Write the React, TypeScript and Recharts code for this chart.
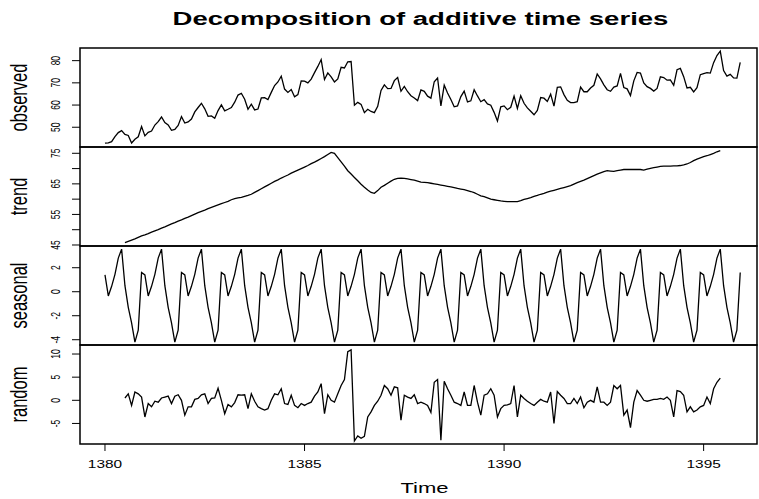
import React from 'react';
import { LineChart, Line, XAxis, YAxis, ReferenceArea } from 'recharts';

const START_YEAR = 1380;
const FREQ = 12;
const TREND_START_INDEX = 6; // trend and random begin half a year in
const X_TICKS = [1380, 1385, 1390, 1395];
const X_DOMAIN: [number, number] = [1379.374, 1396.337];

const observed = [
  42.8, 43.0, 43.5, 45.8, 47.6, 48.5, 46.8, 46.3, 42.9, 44.6, 45.7, 50.3,
  46.1, 47.7, 48.3, 51.0, 52.5, 54.6, 52.1, 51.0, 48.6, 49.0, 50.8, 54.8,
  51.9, 52.4, 53.7, 56.9, 58.9, 60.8, 58.3, 54.9, 55.1, 54.0, 57.5, 60.1,
  57.4, 58.1, 58.9, 61.3, 64.5, 65.3, 62.6, 58.1, 60.4, 57.8, 58.2, 63.2,
  63.3, 62.5, 65.7, 68.8, 70.4, 73.0, 67.2, 65.7, 67.0, 63.7, 64.7, 70.9,
  70.8, 70.0, 71.7, 74.6, 77.4, 80.5, 71.5, 74.5, 72.7, 70.4, 71.8, 77.0,
  76.7, 79.5, 79.6, 59.9, 61.2, 60.3, 56.6, 58.1, 57.1, 56.6, 59.4, 66.6,
  69.1, 67.4, 67.5, 71.0, 72.4, 66.2, 68.4, 66.0, 64.2, 63.2, 62.0, 66.8,
  66.2, 64.0, 63.1, 70.5, 72.2, 59.6, 69.0, 65.4, 62.5, 59.2, 59.6, 63.8,
  66.3, 61.4, 61.9, 66.9, 64.1, 61.5, 62.4, 60.5, 59.9, 56.7, 52.8, 59.2,
  59.6, 57.9, 59.0, 64.0, 58.5, 64.2, 60.8, 58.7, 57.2, 55.6, 57.6, 63.4,
  63.1, 61.6, 64.9, 59.5, 68.0, 68.2, 64.7, 62.1, 61.1, 61.1, 61.5, 68.1,
  66.0, 66.0, 67.7, 68.9, 74.0, 71.8, 69.1, 66.9, 66.2, 68.1, 68.6, 74.3,
  67.9, 67.3, 64.3, 70.9, 74.7, 74.4, 70.0, 68.3, 67.5, 66.3, 67.5, 72.7,
  72.4, 71.2, 71.3, 68.9, 75.9, 76.5, 72.8, 67.7, 68.0, 65.9, 67.8, 73.7,
  74.2, 74.6, 74.4, 79.1, 82.3, 84.3, 75.5, 73.0, 73.8, 72.2, 72.1, 79.2,
];

const trend = [
  45.8, 46.2, 46.6, 47.0, 47.5, 48.0, 48.3, 48.7, 49.2, 49.6, 50.0, 50.5,
  50.9, 51.4, 51.9, 52.3, 52.8, 53.2, 53.7, 54.1, 54.6, 55.1, 55.6, 56.0,
  56.4, 56.9, 57.3, 57.7, 58.1, 58.5, 58.9, 59.3, 59.8, 60.2, 60.4, 60.6,
  60.9, 61.2, 61.6, 62.2, 62.8, 63.4, 64.0, 64.6, 65.2, 65.8, 66.3, 66.9,
  67.4, 67.9, 68.5, 69.0, 69.5, 70.0, 70.5, 71.0, 71.6, 72.1, 72.7, 73.3,
  73.9, 74.6, 75.3, 75.0, 73.6, 72.2, 70.8, 69.3, 68.2, 67.1, 66.0, 64.9,
  63.9, 63.0, 62.2, 61.9, 62.8, 63.9, 64.5, 65.2, 65.9, 66.5, 66.8, 66.9,
  66.8, 66.6, 66.4, 66.2, 65.9, 65.6, 65.5, 65.4, 65.2, 65.0, 64.8, 64.6,
  64.4, 64.2, 64.0, 63.8, 63.5, 63.3, 63.1, 62.8, 62.5, 62.1, 61.6, 61.1,
  60.8, 60.4, 60.0, 59.8, 59.6, 59.4, 59.3, 59.2, 59.2, 59.2, 59.2, 59.5,
  59.9, 60.2, 60.5, 60.9, 61.2, 61.6, 61.9, 62.3, 62.6, 62.9, 63.2, 63.5,
  63.8, 64.1, 64.4, 64.9, 65.4, 65.8, 66.2, 66.7, 67.2, 67.7, 68.2, 68.6,
  69.0, 69.3, 69.2, 69.1, 69.3, 69.5, 69.7, 69.7, 69.7, 69.7, 69.7, 69.7,
  69.5, 69.8, 70.1, 70.3, 70.5, 70.7, 70.8, 70.8, 70.8, 70.9, 70.9, 71.0,
  71.2, 71.5, 72.0, 72.6, 73.1, 73.5, 73.9, 74.2, 74.6, 75.0, 75.5, 75.9,
];

const seasonal = [
  1.4, -0.35, 0.45, 1.45, 2.8, 3.55, 0.5, -1.3, -2.6, -4.2, -3.2, 1.6,
  1.4, -0.35, 0.45, 1.45, 2.8, 3.55, 0.5, -1.3, -2.6, -4.2, -3.2, 1.6,
  1.4, -0.35, 0.45, 1.45, 2.8, 3.55, 0.5, -1.3, -2.6, -4.2, -3.2, 1.6,
  1.4, -0.35, 0.45, 1.45, 2.8, 3.55, 0.5, -1.3, -2.6, -4.2, -3.2, 1.6,
  1.4, -0.35, 0.45, 1.45, 2.8, 3.55, 0.5, -1.3, -2.6, -4.2, -3.2, 1.6,
  1.4, -0.35, 0.45, 1.45, 2.8, 3.55, 0.5, -1.3, -2.6, -4.2, -3.2, 1.6,
  1.4, -0.35, 0.45, 1.45, 2.8, 3.55, 0.5, -1.3, -2.6, -4.2, -3.2, 1.6,
  1.4, -0.35, 0.45, 1.45, 2.8, 3.55, 0.5, -1.3, -2.6, -4.2, -3.2, 1.6,
  1.4, -0.35, 0.45, 1.45, 2.8, 3.55, 0.5, -1.3, -2.6, -4.2, -3.2, 1.6,
  1.4, -0.35, 0.45, 1.45, 2.8, 3.55, 0.5, -1.3, -2.6, -4.2, -3.2, 1.6,
  1.4, -0.35, 0.45, 1.45, 2.8, 3.55, 0.5, -1.3, -2.6, -4.2, -3.2, 1.6,
  1.4, -0.35, 0.45, 1.45, 2.8, 3.55, 0.5, -1.3, -2.6, -4.2, -3.2, 1.6,
  1.4, -0.35, 0.45, 1.45, 2.8, 3.55, 0.5, -1.3, -2.6, -4.2, -3.2, 1.6,
  1.4, -0.35, 0.45, 1.45, 2.8, 3.55, 0.5, -1.3, -2.6, -4.2, -3.2, 1.6,
  1.4, -0.35, 0.45, 1.45, 2.8, 3.55, 0.5, -1.3, -2.6, -4.2, -3.2, 1.6,
  1.4, -0.35, 0.45, 1.45, 2.8, 3.55, 0.5, -1.3, -2.6, -4.2, -3.2, 1.6,
];

const random = [
  0.5, 1.4, -1.1, 1.8, 1.4, 0.7, -3.6, -0.7, -1.4, -0.2, -0.4, 0.5,
  0.7, 0.9, -0.7, 0.9, 1.2, 0.0, -3.2, -1.4, -1.4, 0.2, 0.4, 1.2,
  1.4, -0.7, 0.4, 0.5, 2.6, 0.0, -2.9, -0.9, -1.4, -0.5, 1.2, 1.1,
  1.2, -1.8, 1.4, -0.2, -1.4, -1.8, -2.1, -1.8, 0.0, 1.4, 1.2, 2.5,
  -0.7, -0.9, 1.1, -1.1, -1.6, -0.7, -1.1, -0.7, -0.4, 0.9, 1.8, 3.6,
  -2.9, 1.2, 0.0, -0.4, 1.4, 3.2, 4.5, 10.5, 10.9, -8.8, -7.7, -8.2,
  -7.8, -3.6, -2.5, -1.1, -0.2, 1.1, 3.2, 2.5, 1.1, 2.9, 2.7, -4.3,
  1.1, 0.7, 0.4, 1.2, -0.7, -0.4, -0.7, -1.1, -2.6, 3.9, 4.5, -8.6,
  4.1, 2.5, 1.1, -0.4, -0.7, -1.1, 1.8, -1.1, -1.1, 3.2, -0.4, -3.2,
  1.1, 1.4, 2.5, 1.1, -3.6, -1.8, -1.1, -1.0, -0.7, 3.2, -3.6, 1.1,
  0.4, -0.2, -0.7, -1.1, -0.4, 0.2, -0.2, -0.4, 1.8, -5.0, 1.9, 1.1,
  0.4, -0.7, -0.7, 0.4, -0.7, 0.7, -1.6, -0.4, 0.0, -0.4, 2.9, -0.4,
  -0.4, -1.1, -0.4, 3.2, 2.5, 3.2, -3.2, -2.1, -5.9, -0.4, 2.1, 1.1,
  0.0, -0.2, 0.0, 0.2, 0.2, 0.4, 0.2, 0.7, 0.0, -3.6, 2.1, 1.9,
  1.1, -2.5, -1.4, -2.5, -2.1, -1.4, -1.1, 0.7, -0.7, 2.5, 3.9, 4.8,
];

const observedTicks = [50, 60, 70, 80];
const trendTicks = [45, 50, 55, 60, 65, 70, 75];
const trendLabels = [45, 55, 65, 75];
const seasonalTicks = [-4, -2, 0, 2];
const randomTicks = [-5, 0, 5, 10];

const FONT = '"Liberation Sans", Arial, Helvetica, sans-serif';
const PAD = 10;

type Pt = { t: number; v: number };
const toSeries = (values: number[], startIndex: number): Pt[] =>
  values.map((v, i) => ({ t: START_YEAR + (startIndex + i) / FREQ, v }));

type PanelProps = {
  top: number;
  plotH: number;
  data: Pt[];
  domain: [number, number];
  ticks: number[];
  labeled: number[];
  name: string;
  bottom?: boolean;
};

function Panel({ top, plotH, data, domain, ticks, labeled, name, bottom }: PanelProps) {
  const xAxisH = bottom ? 50 : 0;
  const marginBottom = bottom ? 5 : PAD;
  const height = PAD + plotH + xAxisH + marginBottom;
  const cy = PAD + plotH / 2;

  const renderYTick = (props: any) => {
    const { y, payload } = props;
    if (!labeled.includes(payload.value)) return <g />;
    return (
      <text
        transform={`translate(59.5,${y}) scale(1.6,1) rotate(-90)`}
        textAnchor="middle"
        fontSize={8.5}
        fontFamily={FONT}
        fill="#000"
      >
        {payload.value}
      </text>
    );
  };

  const renderXTick = (props: any) => {
    const { x, payload } = props;
    return (
      <text
        transform={`translate(${x},${PAD + plotH + 24}) scale(1.44,1)`}
        textAnchor="middle"
        fontSize={10.7}
        fontFamily={FONT}
        fill="#000"
      >
        {payload.value}
      </text>
    );
  };

  const YTitle = () => (
    <text
      transform={`translate(27,${cy}) scale(1.4,1) rotate(-90)`}
      textAnchor="middle"
      fontSize={16.5}
      fontFamily={FONT}
      fill="#000"
    >
      {name}
    </text>
  );

  const XTitle = () => (
    <text
      transform={`translate(424.5,${PAD + plotH + 48.7}) scale(1.47,1)`}
      textAnchor="middle"
      fontSize={15}
      fontFamily={FONT}
      fill="#000"
    >
      Time
    </text>
  );

  return (
    <div style={{ position: 'absolute', left: 0, top: top - PAD, width: 759, height }}>
      <LineChart
        width={759}
        height={height}
        data={data}
        margin={{ top: PAD, right: 2, bottom: marginBottom, left: 0 }}
      >
        <XAxis
          type="number"
          dataKey="t"
          domain={X_DOMAIN}
          allowDataOverflow
          ticks={X_TICKS}
          interval={0}
          hide={!bottom}
          height={xAxisH || 30}
          tickSize={7}
          tickLine={{ stroke: '#000', strokeWidth: 1 }}
          axisLine={false}
          tick={renderXTick}
          label={bottom ? <XTitle /> : undefined}
        />
        <YAxis
          type="number"
          dataKey="v"
          domain={domain}
          allowDataOverflow
          ticks={ticks}
          interval={0}
          width={80}
          tickSize={8}
          tickLine={{ stroke: '#000', strokeWidth: 1 }}
          axisLine={false}
          tick={renderYTick}
          label={<YTitle />}
        />
        <ReferenceArea
          x1={X_DOMAIN[0]}
          x2={X_DOMAIN[1]}
          y1={domain[0]}
          y2={domain[1]}
          fill="none"
          fillOpacity={0}
          stroke="#000"
          strokeWidth={1.5}
          ifOverflow="visible"
        />
        <Line
          type="linear"
          dataKey="v"
          stroke="#000"
          strokeWidth={1.3}
          dot={false}
          activeDot={false}
          isAnimationActive={false}
        />
      </LineChart>
    </div>
  );
}

export default function App() {
  return (
    <div
      style={{
        position: 'absolute',
        left: 0,
        top: 0,
        width: 759,
        height: 499,
        background: '#fff',
        overflow: 'hidden',
      }}
    >
      <svg width={759} height={40} style={{ position: 'absolute', left: 0, top: 0 }}>
        <text
          transform="translate(420.5,24.5) scale(1.45,1)"
          textAnchor="middle"
          fontSize={19}
          fontWeight="bold"
          fontFamily={FONT}
          fill="#000"
        >
          Decomposition of additive time series
        </text>
      </svg>
      <Panel
        top={48}
        plotH={99}
        data={toSeries(observed, 0)}
        domain={[41.1, 85.7]}
        ticks={observedTicks}
        labeled={observedTicks}
        name="observed"
      />
      <Panel
        top={147}
        plotH={99}
        data={toSeries(trend, TREND_START_INDEX)}
        domain={[44.67, 77.06]}
        ticks={trendTicks}
        labeled={trendLabels}
        name="trend"
      />
      <Panel
        top={246}
        plotH={99}
        data={toSeries(seasonal, 0)}
        domain={[-4.44, 3.81]}
        ticks={seasonalTicks}
        labeled={seasonalTicks}
        name="seasonal"
      />
      <Panel
        top={345}
        plotH={99}
        data={toSeries(random, TREND_START_INDEX)}
        domain={[-9.44, 11.95]}
        ticks={randomTicks}
        labeled={randomTicks}
        name="random"
        bottom
      />
    </div>
  );
}
